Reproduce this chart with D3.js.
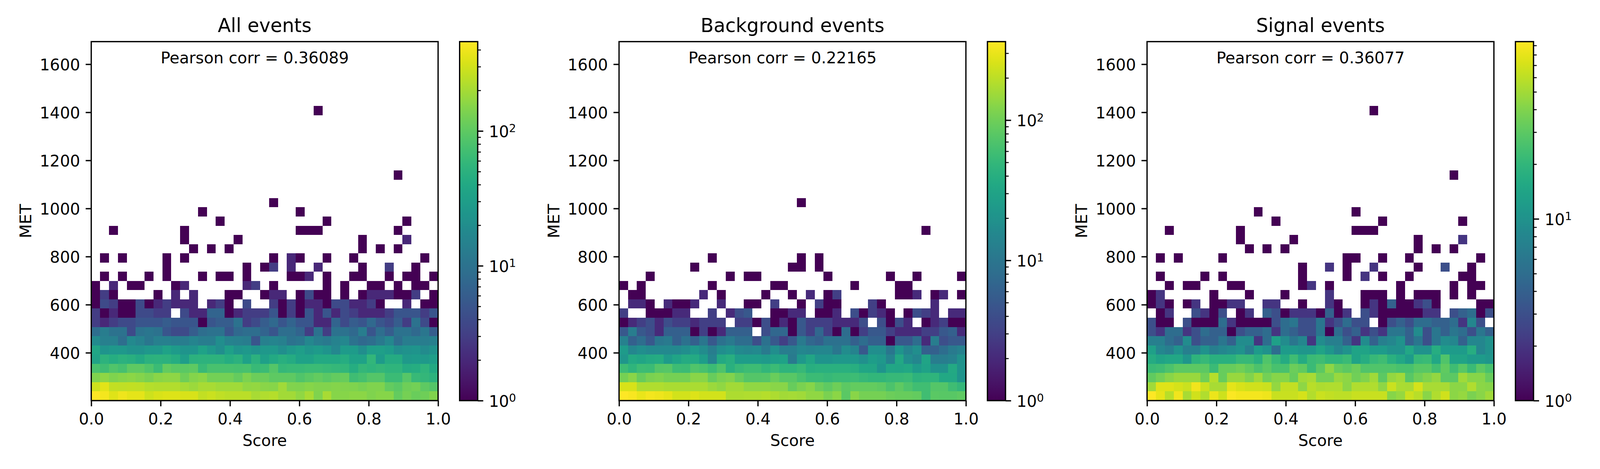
<!DOCTYPE html>
<html>
<head>
<meta charset="utf-8">
<script src="https://cdn.jsdelivr.net/npm/d3@7"></script>
<style>
  html, body { margin: 0; padding: 0; background: #fff; overflow: hidden; }
  svg { display: block; }
  text { font-family: "DejaVu Sans"; fill: #000; }
</style>
</head>
<body>
<div id="plot"></div>
<script>
// counts per bin, 39 score bins x 39 MET bins. dense rows start at the lowest MET bin
const allRows = [
  [460,410,337,395,355,360,290,320,335,335,318,318,265,280,258,245,245,245,205,220,230,195,195,165,205,140,205,150,150,160,160,140,150,150,105,128,112,120,143],
  [285,350,265,258,265,258,235,225,225,225,200,185,205,205,190,190,190,165,170,155,150,190,145,140,150,145,145,148,145,142,130,140,140,105,95,120,125,100,90],
  [140,162,140,150,158,148,135,155,162,162,118,148,158,125,125,125,108,138,115,115,100,100,100,85,95,105,95,105,110,68,75,90,90,65,65,92,62,58,52],
  [78,68,85,75,100,100,85,65,105,95,95,100,62,78,78,78,75,78,62,65,90,60,62,62,65,66,62,60,56,44,58,54,58,54,54,42,45,54,40],
  [35,52,45,50,48,40,50,52,50,44,30,50,52,52,52,45,50,33,50,32,40,48,42,34,34,40,40,40,44,34,34,56,28,42,42,27,28,27,30],
  [38,24,26,26,23,23,26,26,34,28,24,24,34,26,20,32,24,26,22,26,26,20,26,30,25,28,24,17,28,28,20,30,31,28,20,22,24,19,23],
  [19,14,14,9,18,15,11,14,14,13,13,16,13,13,20,15,14,13,5,14,16,14,10,11,17,13,12,15,17,10,8,9,12,17,9,13,13,13,14],
  [9,13,10,10,4,10,11,10,5,4,4,6,9,10,10,5,8,9,9,7,5,9,9,7,3,10,3,10,10,8,13,5,9,6,10,10,8,11,6],
  [3,2,3,4,4,5,5,5,6,5,5,5,1,5,6,6,10,3,4,6,8,5,7,5,5,2,2,7,4,6,5,8,5,4,6,3,10,4,1],
  [3,1,2,1,1,4,4,3,3,0,4,2,2,7,7,1,2,3,3,3,5,1,3,1,5,2,5,2,4,3,2,2,2,3,5,5,5,3,5]
];
// upper bins are sparse: [MET bin, {score bin: count}]
const allUpper = [
  [10, {0:1,1:4,2:3,3:1,4:1,5:4,6:1,7:2,8:3,9:2,10:2,11:2,13:2,14:3,15:1,17:4,20:3,21:1,22:3,23:1,24:2,25:2,26:1,27:4,28:4,29:2,30:2,31:3,32:1,35:2,37:1,38:1}],
  [11, {0:1,1:3,2:1,7:1,9:2,11:2,15:1,16:1,19:1,20:2,21:2,23:1,24:4,25:1,26:1,28:1,30:1,31:2,32:2,33:2,34:1,35:1,36:3,38:1}],
  [12, {0:1,2:2,4:1,5:1,9:1,10:2,17:2,18:3,20:1,26:1,28:1,31:1,32:1,34:1,36:1,37:1}],
  [13, {1:1,3:1,6:1,8:1,12:1,14:1,15:1,17:1,22:1,23:1,24:2,26:1,29:1,30:1,33:1,35:1,36:1,38:1}],
  [14, {8:1,17:1,19:1,20:3,22:2,25:2,30:1,33:3,36:1}],
  [15, {1:1,3:1,8:1,10:1,20:1,22:2,23:1,26:1,29:1,37:1}],
  [16, {11:1,13:1,15:1,30:1,32:1,34:1}],
  [17, {10:1,16:1,30:1,35:2}],
  [18, {2:1,10:1,23:1,24:1,25:1,34:1}],
  [19, {14:1,26:1,35:1}],
  [20, {12:1,23:1}],
  [21, {20:1}],
  [24, {34:1}],
  [31, {25:1}]
];

const bkgRows = [
  [363,345,300,325,310,290,245,245,265,240,240,240,175,175,180,180,190,175,160,165,155,138,138,112,130,80,128,105,105,105,97,92,92,88,60,80,78,78,85],
  [255,255,180,180,180,170,170,170,170,170,150,135,160,160,135,135,135,128,128,92,112,125,97,85,98,82,88,88,88,85,68,85,70,60,60,75,75,58,50],
  [105,128,92,112,115,105,105,105,128,128,92,110,120,92,75,75,77,95,78,78,65,55,55,52,55,55,57,52,48,48,52,52,54,44,46,46,34,34,21],
  [57,46,57,55,75,77,57,56,72,65,56,70,42,52,57,57,48,55,46,46,52,40,42,42,42,42,40,33,32,21,33,32,34,25,30,20,20,35,21],
  [22,35,32,36,38,25,31,37,36,26,14,35,40,26,26,26,24,27,30,11,23,32,21,21,23,23,23,19,26,23,14,34,18,15,31,12,12,13,20],
  [25,15,18,16,16,16,16,18,23,17,12,18,21,16,15,16,11,18,12,12,15,14,15,15,10,17,14,5,18,18,10,21,14,18,6,6,8,11,13],
  [13,6,8,5,10,11,6,9,6,10,5,9,11,8,8,4,9,5,3,5,11,7,6,9,9,9,6,8,6,6,1,5,5,8,2,12,4,5,5],
  [5,12,5,4,2,6,6,6,1,3,1,2,6,6,6,0,4,7,7,1,5,3,7,3,1,8,1,3,5,5,3,2,2,2,3,3,5,6,2],
  [1,2,3,4,2,4,3,3,2,3,3,3,0,3,3,1,4,1,2,1,5,3,3,3,2,2,2,4,0,4,1,4,2,0,1,2,3,1,1]
];
const bkgUpper = [
  [9, {0:3,3:1,4:1,5:1,6:2,7:2,10:3,12:2,13:4,14:5,17:1,18:1,19:2,20:2,22:1,23:1,24:2,26:4,27:1,28:3,29:2,30:1,32:1,33:4,34:3,35:2,37:2,38:2}],
  [10, {1:2,2:2,3:1,5:2,6:1,7:1,8:2,11:2,14:1,15:1,17:3,20:1,22:3,23:1,24:1,28:3,29:1,35:2}],
  [11, {1:1,2:1,9:2,11:1,16:1,19:1,21:2,23:1,24:3,31:1,32:1,33:2,35:1,36:2,38:1}],
  [12, {0:1,2:1,10:1,17:1,18:1,26:1,31:1,32:1}],
  [13, {3:1,12:1,14:1,15:1,23:1,30:1,33:1,38:1}],
  [14, {8:1,19:1,20:1,22:1}],
  [15, {10:1,20:1,22:1}],
  [18, {34:1}],
  [21, {20:1}]
];

const sigRows = [
  [94,80,58,85,52,68,55,82,67,92,88,88,88,84,65,65,65,70,56,66,62,60,60,64,64,65,64,41,46,66,58,42,55,68,43,46,38,42,49],
  [49,76,76,70,66,86,66,52,52,78,72,68,68,66,45,62,62,44,58,54,55,55,43,55,55,55,44,66,53,52,70,52,52,52,43,43,55,43,41],
  [31,36,42,47,47,47,35,57,33,47,47,40,49,36,41,41,33,49,52,36,36,47,44,35,40,49,30,45,49,29,35,40,45,30,30,49,41,41,33],
  [22,23,26,30,30,30,30,22,33,33,35,31,26,30,25,25,34,31,22,30,44,33,30,34,27,27,27,27,25,25,29,29,24,31,23,29,22,30,25],
  [16,14,15,15,11,19,21,18,18,18,21,21,18,27,21,16,23,16,22,23,20,20,22,14,17,21,23,18,15,12,21,22,15,27,14,14,12,12,11],
  [13,8,7,10,7,7,10,7,8,9,10,7,12,10,5,12,12,11,11,14,11,8,10,14,14,12,12,10,10,15,10,10,17,12,12,12,17,8,10],
  [7,7,5,4,9,3,4,4,6,4,9,9,2,5,13,9,6,8,2,9,7,7,4,2,9,4,7,8,10,4,6,3,6,9,8,4,8,8,10],
  [3,2,5,5,2,3,5,4,4,1,3,4,4,5,2,5,4,3,3,6,1,5,3,4,2,3,2,6,6,4,9,3,6,4,6,5,3,6,4],
  [3,1,1,0,3,1,1,1,5,2,1,1,1,1,3,5,6,3,3,6,2,3,5,3,3,0,1,3,4,3,5,5,4,4,5,2,8,3,0]
];
const sigUpper = [
  [9, {1:1,2:2,5:3,6:2,7:1,8:3,10:1,11:2,13:4,14:3,15:1,16:2,17:2,18:2,19:1,20:4,21:1,22:2,24:3,25:2,26:1,27:1,28:1,29:1,30:1,31:2,32:2,34:3,35:4,36:5,37:1,38:3}],
  [10, {0:1,1:2,2:1,4:1,5:2,7:1,8:1,9:2,10:2,13:2,14:2,17:1,20:2,21:1,24:1,25:2,26:1,27:4,28:1,29:1,30:2,31:3,32:1,37:1,38:1}],
  [11, {0:1,1:2,7:1,11:1,15:1,20:2,24:1,25:1,26:1,28:1,30:1,31:1,32:1,34:1,36:1}],
  [12, {2:1,4:1,5:1,9:1,10:1,17:1,18:2,20:1,28:1,34:1,36:1,37:1}],
  [13, {1:1,6:1,8:1,17:1,22:1,24:2,26:1,29:1,35:1,36:1}],
  [14, {17:1,20:2,22:1,25:2,30:1,33:3,36:1}],
  [15, {1:1,3:1,8:1,22:1,23:1,26:1,29:1,37:1}],
  [16, {11:1,13:1,15:1,30:1,32:1,34:1}],
  [17, {10:1,16:1,30:1,35:2}],
  [18, {2:1,10:1,23:1,24:1,25:1}],
  [19, {14:1,26:1,35:1}],
  [20, {12:1,23:1}],
  [24, {34:1}],
  [31, {25:1}]
];

const titles = ['All events', 'Background events', 'Signal events'];
const corrs = ['0.36089', '0.22165', '0.36077'];
const vmaxes = [460, 363, 94.5];
const scoreTicks = [0, 0.2, 0.4, 0.6, 0.8, 1];
const metTicks = [400, 600, 800, 1000, 1200, 1400, 1600];
const metRange = [201, 1694];
const binCount = 39;

// sizes are the matplotlib ones at 300 dpi
const pt = 300 / 72;
const panelW = 910.5, panelH = 918.5;
const panelTop = 106.5;
const lefts = [239.5, 1625, 3011];
const cbarGap = 967, cbarWidth = 47.5;

// layout is in 4200x1200 units, the window can be narrower than that so fit it
const svg = d3.select('#plot').append('svg')
  .attr('width', window.innerWidth)
  .attr('height', window.innerHeight)
  .attr('viewBox', '0 0 4200 1200')
  .attr('preserveAspectRatio', 'none');

function toCells(rows, upper) {
  const cells = [];
  rows.forEach((row, r) => row.forEach((count, c) => { if (count > 0) cells.push({r, c, count}); }));
  upper.forEach(([r, bins]) => Object.entries(bins).forEach(([c, count]) => cells.push({r, c: +c, count})));
  return cells;
}

function styleAxis(g, lineWidth, dy) {
  g.select('.domain').remove();
  g.selectAll('.tick line').attr('stroke', '#000').attr('stroke-width', lineWidth);
  g.selectAll('.tick text')
    .attr('font-family', 'DejaVu Sans')
    .attr('font-size', 10 * pt)
    .attr('dy', dy);
}

function drawPanel(i, rows, upper) {
  const vmax = vmaxes[i];
  const g = svg.append('g').attr('transform', `translate(${lefts[i]},${panelTop})`);

  const x = d3.scaleLinear().domain([0, 1]).range([0, panelW]);
  const y = d3.scaleLinear().domain(metRange).range([panelH, 0]);
  const xBin = d3.scaleBand().domain(d3.range(binCount)).range([0, panelW]);
  const yBin = d3.scaleBand().domain(d3.range(binCount)).range([panelH, 0]);
  const color = d3.scaleLog().domain([1, vmax]).range([0, 1]);

  g.selectAll('rect.cell')
    .data(toCells(rows, upper))
    .enter()
    .append('rect')
    .attr('class', 'cell')
    .attr('x', d => xBin(d.c))
    .attr('y', d => yBin(d.r))
    .attr('width', xBin.bandwidth())
    .attr('height', yBin.bandwidth())
    .attr('shape-rendering', 'crispEdges')
    .attr('fill', d => d3.interpolateViridis(color(d.count)));

  const xAxis = d3.axisBottom(x).tickValues(scoreTicks).tickFormat(d3.format('.1f'))
    .tickSize(3.5 * pt).tickPadding(3.5 * pt);
  g.append('g').attr('transform', `translate(0,${panelH})`).call(xAxis).call(styleAxis, 0.8 * pt, '0.76em');

  const yAxis = d3.axisLeft(y).tickValues(metTicks).tickFormat(d3.format('d'))
    .tickSize(3.5 * pt).tickPadding(3.5 * pt);
  g.append('g').call(yAxis).call(styleAxis, 0.8 * pt, '0.36em');

  g.append('rect')
    .attr('width', panelW).attr('height', panelH)
    .attr('fill', 'none').attr('stroke', '#000').attr('stroke-width', 0.8 * pt);

  g.append('text')
    .attr('x', panelW / 2).attr('y', -24.5)
    .attr('text-anchor', 'middle')
    .attr('font-size', 12 * pt)
    .text(titles[i]);

  g.append('text')
    .attr('x', x(0.2)).attr('y', y(1603))
    .attr('font-size', 10 * pt)
    .text('Pearson corr = ' + corrs[i]);

  g.append('text')
    .attr('x', panelW / 2).attr('y', panelH + 116)
    .attr('text-anchor', 'middle')
    .attr('font-size', 10 * pt)
    .text('Score');

  g.append('text')
    .attr('transform', `translate(-157,${panelH / 2}) rotate(-90)`)
    .attr('text-anchor', 'middle')
    .attr('font-size', 10 * pt)
    .text('MET');

  // colorbar
  const cb = g.append('g').attr('transform', `translate(${cbarGap},0)`);
  const gradId = 'grad' + i;
  const grad = svg.append('defs').append('linearGradient')
    .attr('id', gradId).attr('x1', 0).attr('x2', 0).attr('y1', 1).attr('y2', 0);
  d3.range(0, 1.001, 0.02).forEach(t => {
    grad.append('stop').attr('offset', t).attr('stop-color', d3.interpolateViridis(t));
  });
  cb.append('rect')
    .attr('width', cbarWidth).attr('height', panelH)
    .attr('fill', `url(#${gradId})`)
    .attr('stroke', '#000').attr('stroke-width', 0.8 * pt);

  const cbScale = d3.scaleLog().domain([1, vmax]).range([panelH, 0]);
  const majors = [1, 10, 100].filter(v => v <= vmax);
  const minors = [];
  [1, 10, 100].forEach(dec => d3.range(2, 10).forEach(m => { if (dec * m <= vmax) minors.push(dec * m); }));

  cb.append('g').attr('transform', `translate(${cbarWidth},0)`)
    .call(d3.axisRight(cbScale).tickValues(minors).tickFormat(() => '').tickSize(2 * pt))
    .call(styleAxis, 0.6 * pt, '0.36em');

  const majorAxis = cb.append('g').attr('transform', `translate(${cbarWidth},0)`)
    .call(d3.axisRight(cbScale).tickValues(majors).tickFormat(() => '').tickSize(3.5 * pt).tickPadding(3.5 * pt))
    .call(styleAxis, 0.8 * pt, '0.36em');
  majorAxis.selectAll('.tick text').each(function (d) {
    const t = d3.select(this);
    t.text('10');
    t.append('tspan')
      .attr('dy', '-0.42em')
      .attr('font-size', 7 * pt)
      .text(Math.round(Math.log10(d)));
  });
}

drawPanel(0, allRows, allUpper);
drawPanel(1, bkgRows, bkgUpper);
drawPanel(2, sigRows, sigUpper);
</script>
</body>
</html>
